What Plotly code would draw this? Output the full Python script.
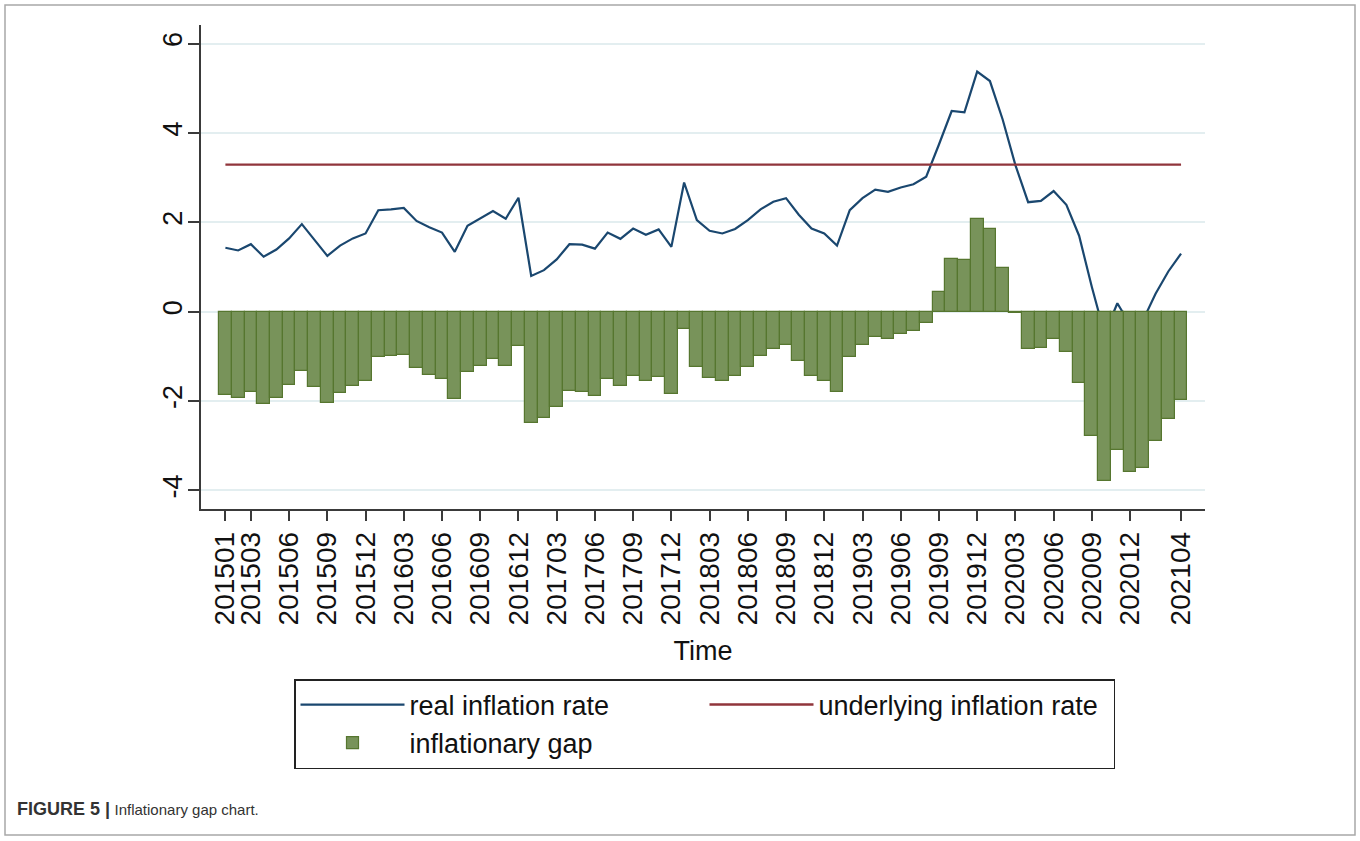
import plotly.graph_objects as go

months = [
    "201501", "201502", "201503", "201504", "201505", "201506", "201507", "201508", "201509", "201510", "201511", "201512",
    "201601", "201602", "201603", "201604", "201605", "201606", "201607", "201608", "201609", "201610", "201611", "201612",
    "201701", "201702", "201703", "201704", "201705", "201706", "201707", "201708", "201709", "201710", "201711", "201712",
    "201801", "201802", "201803", "201804", "201805", "201806", "201807", "201808", "201809", "201810", "201811", "201812",
    "201901", "201902", "201903", "201904", "201905", "201906", "201907", "201908", "201909", "201910", "201911", "201912",
    "202001", "202002", "202003", "202004", "202005", "202006", "202007", "202008", "202009", "202010", "202011", "202012",
    "202101", "202102", "202103", "202104",
]

real_inflation = [
    1.43, 1.37, 1.51, 1.23, 1.39, 1.64, 1.96, 1.60, 1.25, 1.48,
    1.64, 1.75, 2.27, 2.29, 2.32, 2.03, 1.89, 1.77, 1.34, 1.92,
    2.09, 2.25, 2.08, 2.55, 0.80, 0.93, 1.17, 1.51, 1.50, 1.41,
    1.77, 1.63, 1.86, 1.72, 1.84, 1.45, 2.89, 2.05, 1.81, 1.75,
    1.85, 2.05, 2.29, 2.46, 2.54, 2.17, 1.86, 1.75, 1.48, 2.27,
    2.54, 2.73, 2.68, 2.78, 2.85, 3.02, 3.74, 4.49, 4.46, 5.37,
    5.16, 4.30, 3.28, 2.45, 2.48, 2.70, 2.39, 1.70, 0.55, -0.50,
    0.19, -0.29, -0.20, 0.40, 0.90, 1.30,
]

inflation_gap = [
    -1.86, -1.92, -1.79, -2.07, -1.92, -1.65, -1.33, -1.69, -2.04, -1.81,
    -1.66, -1.54, -1.02, -0.99, -0.97, -1.26, -1.41, -1.51, -1.95, -1.36,
    -1.21, -1.05, -1.22, -0.76, -2.48, -2.37, -2.13, -1.77, -1.80, -1.89,
    -1.51, -1.66, -1.43, -1.56, -1.47, -1.83, -0.39, -1.23, -1.49, -1.54,
    -1.44, -1.23, -0.99, -0.83, -0.75, -1.10, -1.44, -1.55, -1.80, -1.01,
    -0.74, -0.57, -0.60, -0.50, -0.44, -0.26, 0.45, 1.19, 1.16, 2.07,
    1.86, 0.97, -0.02, -0.84, -0.81, -0.60, -0.90, -1.59, -2.78, -3.79,
    -3.10, -3.58, -3.49, -2.89, -2.39, -1.98,
]

underlying_rate = 3.29
underlying_inflation = [underlying_rate] * len(months)

tick_labels = [
    "201501", "201503", "201506", "201509", "201512", "201603", "201606", "201609", "201612",
    "201703", "201706", "201709", "201712", "201803", "201806", "201809", "201812",
    "201903", "201906", "201909", "201912", "202003", "202006", "202009", "202012", "202104",
]
y_ticks = [-4, -2, 0, 2, 4, 6]

FONT = "Liberation Sans, Arial, Helvetica, sans-serif"
NAVY = "#1a476f"
MAROON = "#90353b"
GREEN_FILL = "#78935a"
GREEN_LINE = "#56762f"
AXIS = "#3a3a3a"
GRID = "#e3eef0"

x_range = [-1.915, 76.88]
y_range = [-4.414, 6.414]

fig = go.Figure()
fig.add_trace(go.Scatter(
    x=months, y=real_inflation, mode="lines", name="real inflation rate",
    line=dict(color=NAVY, width=2.2), xaxis="x", yaxis="y",
))
fig.add_trace(go.Scatter(
    x=months, y=underlying_inflation, mode="lines", name="underlying inflation rate",
    line=dict(color=MAROON, width=2.4), xaxis="x", yaxis="y",
))
fig.add_trace(go.Bar(
    x=months, y=inflation_gap, name="inflationary gap",
    marker=dict(color=GREEN_FILL, line=dict(color=GREEN_LINE, width=1.2)),
    xaxis="x2", yaxis="y2",
))

# plot area in pixels: x 201..1205, y 25..509
L, R, T, B = 201, 155, 25, 332
W, H = 1360, 841
pw, ph = W - L - R, H - T - B


def px_x(p):
    return (p - L) / pw


def px_y(p):
    return (H - B - p) / ph


fig.update_layout(
    width=W, height=H,
    margin=dict(l=L, r=R, t=T, b=B),
    paper_bgcolor="white", plot_bgcolor="white",
    font=dict(family=FONT, color="#111111"),
    bargap=0,
    showlegend=True,
    xaxis=dict(
        type="category", categoryorder="array", categoryarray=months,
        range=x_range, showgrid=False, zeroline=False,
        showline=True, linecolor=AXIS, linewidth=1.5,
        ticks="outside", ticklen=10, tickwidth=1.5, tickcolor=AXIS,
        tickmode="array", tickvals=tick_labels, ticktext=tick_labels,
        tickangle=-90, tickfont=dict(size=28, color="#111111"),
        ticklabelstandoff=0,
        title=dict(text="Time", font=dict(size=27, color="#111111"), standoff=17),
    ),
    yaxis=dict(
        range=y_range, showgrid=True, gridcolor=GRID, gridwidth=1.5,
        zeroline=False, showline=True, linecolor=AXIS, linewidth=1.5,
        ticks="outside", ticklen=11, tickwidth=1.5, tickcolor=AXIS,
        tickmode="array", tickvals=y_ticks, ticktext=[str(v) for v in y_ticks],
        tickangle=-90, tickfont=dict(size=27, color="#111111"),
        ticklabelstandoff=-5,
    ),
    xaxis2=dict(
        type="category", categoryorder="array", categoryarray=months,
        range=x_range, overlaying="x", visible=False,
    ),
    yaxis2=dict(range=y_range, overlaying="y", visible=False),
    legend=dict(
        orientation="h", x=px_x(294), xanchor="left", y=px_y(679), yanchor="top",
        xref="paper", yref="paper",
        bordercolor="#222222", borderwidth=1.5, bgcolor="white",
        font=dict(size=27, color="#111111", family=FONT),
        itemwidth=104, entrywidth=290, traceorder="normal",
    ),
    shapes=[
        dict(type="rect", xref="paper", yref="paper",
             x0=px_x(5), x1=px_x(1355), y0=px_y(835), y1=px_y(5),
             line=dict(color="#a8a8a8", width=1.5), fillcolor="rgba(0,0,0,0)", layer="below"),
    ],
    annotations=[
        dict(text=("<span style='font-size:18px;font-weight:bold'>FIGURE 5 |</span> "
                   "<span style='font-size:15px'>Inflationary gap chart.</span>"),
             xref="paper", yref="paper",
             x=px_x(15), y=px_y(809), xanchor="left", yanchor="middle", showarrow=False,
             font=dict(size=16, color="#333333", family=FONT)),
    ],
)

fig.write_html("out.html", config={"displayModeBar": False},
               post_script="document.body.style.margin='0px';")
